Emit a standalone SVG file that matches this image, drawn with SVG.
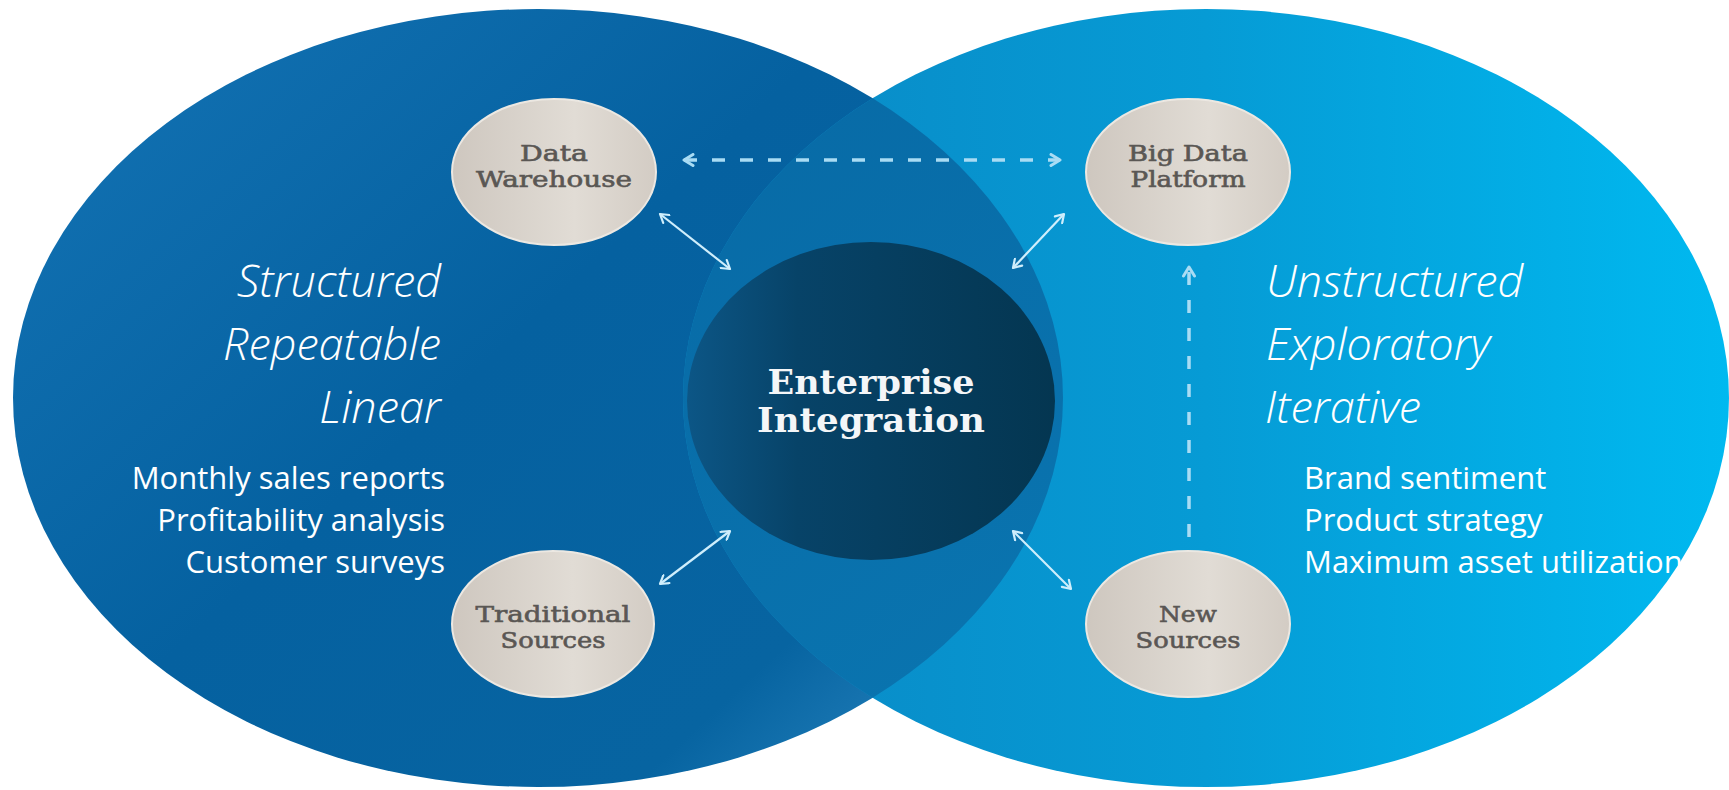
<svg xmlns="http://www.w3.org/2000/svg" width="1729" height="790" viewBox="0 0 1729 790">
<defs>
<style>
.node-fill{fill:url(#beige);stroke:#ece8e2;stroke-width:2}
.node-text{font-family:"DejaVu Serif","Liberation Serif",serif;font-size:22px;fill:#5a5754;stroke:#5a5754;stroke-width:0.6;text-anchor:middle}
.ital{font-family:"Open Sans","Noto Sans",sans-serif;font-style:italic;font-weight:300;font-size:45px;fill:#ffffff}
.bul{font-family:"Open Sans","Noto Sans",sans-serif;font-size:31px;fill:#ffffff}
.core-text{font-family:"DejaVu Serif","Liberation Serif",serif;font-weight:bold;font-size:33px;fill:#f4f6f8;text-anchor:middle}
.solid{stroke:#cfeefc;stroke-width:2.2;fill:none}
.dash{stroke:#a9dcf4;stroke-width:3.5;fill:none;stroke-dasharray:13 15}
</style>
<linearGradient id="leftG" x1="0" y1="0.2" x2="1" y2="1">
<stop offset="0" stop-color="#1170b1"/>
<stop offset="0.4" stop-color="#0561a0"/>
<stop offset="0.75" stop-color="#0764a1"/>
<stop offset="1" stop-color="#3592cc"/>
</linearGradient>
<linearGradient id="rightG" x1="0" y1="0" x2="1" y2="0">
<stop offset="0" stop-color="#0a88c4"/>
<stop offset="0.5" stop-color="#069bd5"/>
<stop offset="1" stop-color="#00b9f0"/>
</linearGradient>
<linearGradient id="lensG" x1="0" y1="0" x2="1" y2="1">
<stop offset="0" stop-color="#06639f"/>
<stop offset="1" stop-color="#0a76b1"/>
</linearGradient>
<linearGradient id="coreG" x1="0" y1="0" x2="1" y2="0">
<stop offset="0" stop-color="#0c5686"/>
<stop offset="0.3" stop-color="#074368"/>
<stop offset="1" stop-color="#043651"/>
</linearGradient>
<linearGradient id="beige" x1="0" y1="0" x2="1" y2="0">
<stop offset="0" stop-color="#cec7bf"/>
<stop offset="0.6" stop-color="#e1dcd5"/>
<stop offset="1" stop-color="#d3ccc4"/>
</linearGradient>
<clipPath id="rightClip"><ellipse cx="1206" cy="398" rx="523" ry="389"/></clipPath>
<marker id="ah" viewBox="0 0 12 12" refX="10" refY="6" markerWidth="12" markerHeight="12" markerUnits="userSpaceOnUse" orient="auto-start-reverse">
<path d="M2,1 L10,6 L2,11" stroke="#cfeefc" stroke-width="2.2" fill="none" stroke-linecap="round" stroke-linejoin="round"/>
</marker>
<marker id="dah" viewBox="0 0 14 14" refX="12" refY="7" markerWidth="14" markerHeight="14" markerUnits="userSpaceOnUse" orient="auto-start-reverse">
<path d="M3,1.5 L12,7 L3,12.5" stroke="#a9dcf4" stroke-width="3" fill="none" stroke-linecap="round" stroke-linejoin="round"/>
</marker>
</defs>

<g id="background">
<ellipse cx="538" cy="398" rx="525" ry="389" fill="url(#leftG)"/>
<ellipse cx="1206" cy="398" rx="523" ry="389" fill="url(#rightG)"/>
<ellipse cx="538" cy="398" rx="525" ry="389" fill="url(#lensG)" clip-path="url(#rightClip)"/>
</g>

<g id="connectors">
<line class="dash" x1="684" y1="160" x2="1060" y2="160" marker-start="url(#dah)" marker-end="url(#dah)"/>
<line class="dash" x1="1189" y1="537" x2="1189" y2="267" marker-end="url(#dah)"/>
<line class="solid" x1="660" y1="214" x2="730" y2="269" marker-start="url(#ah)" marker-end="url(#ah)"/>
<line class="solid" x1="1064" y1="214" x2="1013" y2="268" marker-start="url(#ah)" marker-end="url(#ah)"/>
<line class="solid" x1="660" y1="584" x2="730" y2="531" marker-start="url(#ah)" marker-end="url(#ah)"/>
<line class="solid" x1="1013" y1="531" x2="1071" y2="589" marker-start="url(#ah)" marker-end="url(#ah)"/>
</g>

<g id="enterprise-integration">
<ellipse cx="871" cy="401" rx="184" ry="159" fill="url(#coreG)"/>
<text class="core-text" x="871" y="394" textLength="207" lengthAdjust="spacingAndGlyphs">Enterprise</text>
<text class="core-text" x="871" y="432" textLength="228" lengthAdjust="spacingAndGlyphs">Integration</text>
</g>

<g id="data-warehouse">
<ellipse class="node-fill" cx="554" cy="172" rx="102" ry="73"/>
<text class="node-text" x="554" y="161" textLength="68" lengthAdjust="spacingAndGlyphs">Data</text>
<text class="node-text" x="554" y="187" textLength="156" lengthAdjust="spacingAndGlyphs">Warehouse</text>
</g>

<g id="big-data-platform">
<ellipse class="node-fill" cx="1188" cy="172" rx="102" ry="73"/>
<text class="node-text" x="1188" y="161" textLength="120" lengthAdjust="spacingAndGlyphs">Big Data</text>
<text class="node-text" x="1188" y="187" textLength="115" lengthAdjust="spacingAndGlyphs">Platform</text>
</g>

<g id="traditional-sources">
<ellipse class="node-fill" cx="553" cy="624" rx="101" ry="73"/>
<text class="node-text" x="553" y="622" textLength="155" lengthAdjust="spacingAndGlyphs">Traditional</text>
<text class="node-text" x="553" y="648" textLength="105" lengthAdjust="spacingAndGlyphs">Sources</text>
</g>

<g id="new-sources">
<ellipse class="node-fill" cx="1188" cy="624" rx="102" ry="73"/>
<text class="node-text" x="1188" y="622" textLength="58" lengthAdjust="spacingAndGlyphs">New</text>
<text class="node-text" x="1188" y="648" textLength="105" lengthAdjust="spacingAndGlyphs">Sources</text>
</g>

<g id="structured-label">
<text class="ital" x="441" y="297" text-anchor="end">Structured</text>
<text class="ital" x="441" y="360" text-anchor="end">Repeatable</text>
<text class="ital" x="441" y="423" text-anchor="end">Linear</text>
<text class="bul" x="445" y="489" text-anchor="end">Monthly sales reports</text>
<text class="bul" x="445" y="531" text-anchor="end">Profitability analysis</text>
<text class="bul" x="445" y="573" text-anchor="end">Customer surveys</text>
</g>

<g id="unstructured-label">
<text class="ital" x="1266" y="297">Unstructured</text>
<text class="ital" x="1266" y="360">Exploratory</text>
<text class="ital" x="1265" y="423">Iterative</text>
<text class="bul" x="1304" y="489">Brand sentiment</text>
<text class="bul" x="1304" y="531">Product strategy</text>
<text class="bul" x="1304" y="573">Maximum asset utilization</text>
</g>
</svg>
